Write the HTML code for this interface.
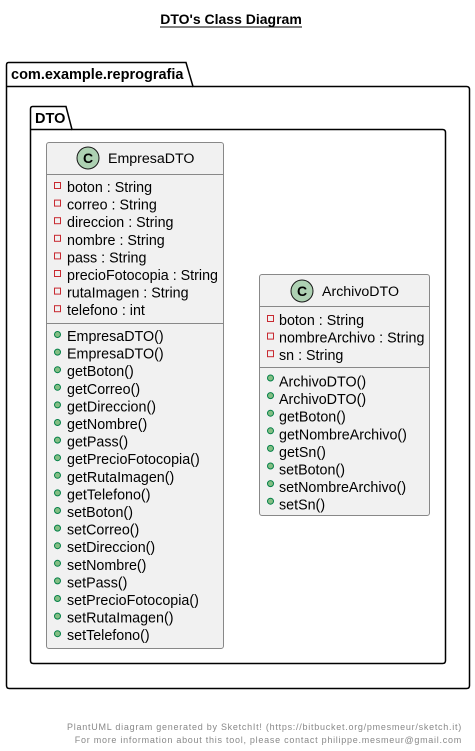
<!DOCTYPE html>
<html><head><meta charset="utf-8"><style>
html,body{margin:0;padding:0;background:#fff;}
svg{display:block;}
text{font-family:"Liberation Sans",sans-serif;}
.m{font-size:14.3px;fill:#000;}
</style></head><body>
<svg width="475" height="751" viewBox="0 0 475 751" xmlns="http://www.w3.org/2000/svg">
<text x="231" y="24" text-anchor="middle" font-size="14" font-weight="bold">DTO's Class Diagram</text>
<line x1="160" y1="27" x2="302" y2="27" stroke="#000" stroke-width="1"/>

<!-- outer package -->
<path d="M8.5,62.5 L186,62.5 L193,86.5 L466.5,86.5 Q469.5,86.5 469.5,89.5 L469.5,685.5 Q469.5,688.5 466.5,688.5 L9.5,688.5 Q6.5,688.5 6.5,685.5 L6.5,65 Q6.5,62.5 8.5,62.5 Z" fill="#fff" stroke="#000" stroke-width="1.5"/>
<line x1="6.5" y1="86.5" x2="193" y2="86.5" stroke="#000" stroke-width="1.5"/>
<text x="11" y="79" font-size="14.5" font-weight="bold">com.example.reprografia</text>

<!-- inner package -->
<path d="M32.5,106.5 L66,106.5 L72,129.5 L442.5,129.5 Q445.5,129.5 445.5,132.5 L445.5,660.5 Q445.5,663.5 442.5,663.5 L33.5,663.5 Q30.5,663.5 30.5,660.5 L30.5,109 Q30.5,106.5 32.5,106.5 Z" fill="#fff" stroke="#000" stroke-width="1.5"/>
<line x1="30.5" y1="129.5" x2="72" y2="129.5" stroke="#000" stroke-width="1.5"/>
<text x="35" y="123" font-size="14.5" font-weight="bold">DTO</text>

<!-- EmpresaDTO -->
<rect x="46.5" y="142.5" width="177" height="506" rx="2.5" fill="#f1f1f1" stroke="#888" stroke-width="1"/>
<circle cx="88" cy="158" r="11" fill="#add1b2" stroke="#181818" stroke-width="1"/>
<text x="88" y="163" text-anchor="middle" font-size="14" font-weight="bold">C</text>
<text x="108" y="163" font-size="14.2">EmpresaDTO</text>
<line x1="46.5" y1="174.5" x2="223.5" y2="174.5" stroke="#888"/>
<line x1="46.5" y1="323.5" x2="223.5" y2="323.5" stroke="#888"/>
<g fill="none" stroke="#c82930">
<rect x="54.5" y="182.5" width="6" height="6"/><rect x="54.5" y="200.1" width="6" height="6"/><rect x="54.5" y="217.7" width="6" height="6"/><rect x="54.5" y="235.3" width="6" height="6"/><rect x="54.5" y="252.9" width="6" height="6"/><rect x="54.5" y="270.5" width="6" height="6"/><rect x="54.5" y="288.1" width="6" height="6"/><rect x="54.5" y="305.7" width="6" height="6"/>
</g>
<text x="67" y="192" class="m">boton : String</text>
<text x="67" y="209.6" class="m">correo : String</text>
<text x="67" y="227.2" class="m">direccion : String</text>
<text x="67" y="244.8" class="m">nombre : String</text>
<text x="67" y="262.4" class="m">pass : String</text>
<text x="67" y="280" class="m">precioFotocopia : String</text>
<text x="67" y="297.6" class="m">rutaImagen : String</text>
<text x="67" y="315.2" class="m">telefono : int</text>
<g fill="#84be84" stroke="#038048" stroke-width="1">
<circle cx="57.5" cy="334.5" r="3"/><circle cx="57.5" cy="352.1" r="3"/><circle cx="57.5" cy="369.7" r="3"/><circle cx="57.5" cy="387.3" r="3"/><circle cx="57.5" cy="404.9" r="3"/><circle cx="57.5" cy="422.5" r="3"/><circle cx="57.5" cy="440.1" r="3"/><circle cx="57.5" cy="457.7" r="3"/><circle cx="57.5" cy="475.3" r="3"/><circle cx="57.5" cy="492.9" r="3"/><circle cx="57.5" cy="510.5" r="3"/><circle cx="57.5" cy="528.1" r="3"/><circle cx="57.5" cy="545.7" r="3"/><circle cx="57.5" cy="563.3" r="3"/><circle cx="57.5" cy="580.9" r="3"/><circle cx="57.5" cy="598.5" r="3"/><circle cx="57.5" cy="616.1" r="3"/><circle cx="57.5" cy="633.7" r="3"/>
</g>
<text x="67" y="341" class="m">EmpresaDTO()</text>
<text x="67" y="358.6" class="m">EmpresaDTO()</text>
<text x="67" y="376.2" class="m">getBoton()</text>
<text x="67" y="393.8" class="m">getCorreo()</text>
<text x="67" y="411.4" class="m">getDireccion()</text>
<text x="67" y="429" class="m">getNombre()</text>
<text x="67" y="446.6" class="m">getPass()</text>
<text x="67" y="464.2" class="m">getPrecioFotocopia()</text>
<text x="67" y="481.8" class="m">getRutaImagen()</text>
<text x="67" y="499.4" class="m">getTelefono()</text>
<text x="67" y="517" class="m">setBoton()</text>
<text x="67" y="534.6" class="m">setCorreo()</text>
<text x="67" y="552.2" class="m">setDireccion()</text>
<text x="67" y="569.8" class="m">setNombre()</text>
<text x="67" y="587.4" class="m">setPass()</text>
<text x="67" y="605" class="m">setPrecioFotocopia()</text>
<text x="67" y="622.6" class="m">setRutaImagen()</text>
<text x="67" y="640.2" class="m">setTelefono()</text>

<!-- ArchivoDTO -->
<rect x="259.5" y="274.5" width="170" height="241" rx="2.5" fill="#f1f1f1" stroke="#888" stroke-width="1"/>
<circle cx="302" cy="291" r="11" fill="#add1b2" stroke="#181818" stroke-width="1"/>
<text x="302" y="296" text-anchor="middle" font-size="14" font-weight="bold">C</text>
<text x="322" y="296" font-size="14.2">ArchivoDTO</text>
<line x1="259.5" y1="306.5" x2="429.5" y2="306.5" stroke="#888"/>
<line x1="259.5" y1="367.5" x2="429.5" y2="367.5" stroke="#888"/>
<g fill="none" stroke="#c82930">
<rect x="267.5" y="315.5" width="6" height="6"/><rect x="267.5" y="333.1" width="6" height="6"/><rect x="267.5" y="350.7" width="6" height="6"/>
</g>
<text x="279" y="325" class="m">boton : String</text>
<text x="279" y="342.6" class="m">nombreArchivo : String</text>
<text x="279" y="360.2" class="m">sn : String</text>
<g fill="#84be84" stroke="#038048" stroke-width="1">
<circle cx="270.5" cy="378" r="3"/><circle cx="270.5" cy="395.6" r="3"/><circle cx="270.5" cy="413.2" r="3"/><circle cx="270.5" cy="430.8" r="3"/><circle cx="270.5" cy="448.4" r="3"/><circle cx="270.5" cy="466" r="3"/><circle cx="270.5" cy="483.6" r="3"/><circle cx="270.5" cy="501.2" r="3"/>
</g>
<text x="279" y="386.5" class="m">ArchivoDTO()</text>
<text x="279" y="404.1" class="m">ArchivoDTO()</text>
<text x="279" y="421.7" class="m">getBoton()</text>
<text x="279" y="439.3" class="m">getNombreArchivo()</text>
<text x="279" y="456.9" class="m">getSn()</text>
<text x="279" y="474.5" class="m">setBoton()</text>
<text x="279" y="492.1" class="m">setNombreArchivo()</text>
<text x="279" y="509.7" class="m">setSn()</text>

<!-- footer -->
<text x="462" y="730" text-anchor="end" font-size="9" fill="#888" letter-spacing="0.74">PlantUML diagram generated by SketchIt! (https://bitbucket.org/pmesmeur/sketch.it)</text>
<text x="462" y="743" text-anchor="end" font-size="9" fill="#888" letter-spacing="0.74">For more information about this tool, please contact philippe.mesmeur@gmail.com</text>
</svg>
</body></html>
